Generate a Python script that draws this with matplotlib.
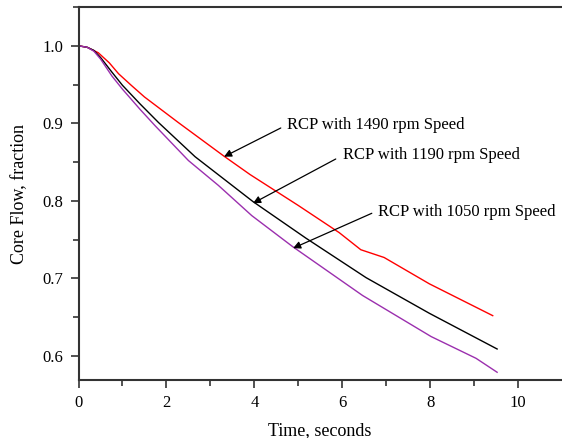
import matplotlib
matplotlib.use("Agg")
import matplotlib.pyplot as plt
from matplotlib.ticker import MultipleLocator

plt.rcParams['font.family'] = ['Liberation Serif', 'DejaVu Serif']

# Core flow coastdown curves
t_1490 = [0, 0.2, 0.45, 0.7, 0.91, 1.2, 1.5, 2.27, 3.3, 3.9, 5.0, 5.93, 6.42, 6.95, 7.98, 9.42]
flow_1490 = [1.0, 0.998, 0.991, 0.978, 0.964, 0.949, 0.934, 0.901, 0.858, 0.834, 0.794, 0.759, 0.737, 0.727, 0.693, 0.652]

t_1190 = [0, 0.2, 0.35, 0.5, 0.76, 1.0, 1.4, 1.82, 2.65, 3.97, 5.17, 6.54, 7.98, 9.52]
flow_1190 = [1.0, 0.998, 0.994, 0.985, 0.966, 0.949, 0.925, 0.901, 0.857, 0.799, 0.752, 0.701, 0.655, 0.609]

t_1050 = [0, 0.2, 0.35, 0.5, 0.76, 1.0, 1.4, 1.74, 2.5, 3.18, 3.94, 4.87, 6.46, 8.02, 9.04, 9.52]
flow_1050 = [1.0, 0.998, 0.993, 0.983, 0.961, 0.944, 0.918, 0.897, 0.852, 0.820, 0.781, 0.741, 0.678, 0.625, 0.597, 0.579]

labels = ["RCP with 1490 rpm Speed", "RCP with 1190 rpm Speed", "RCP with 1050 rpm Speed"]

fig = plt.figure(figsize=(5.62, 4.38), dpi=100)
ax = fig.add_axes([0.1397, 0.1324, 0.8583, 0.8516])

ax.plot(t_1490, flow_1490, color="#ff0000", lw=1.0)
ax.plot(t_1190, flow_1190, color="black", lw=1.0)
ax.plot(t_1050, flow_1050, color="#9b2fae", lw=1.0)

ax.set_xlim(0, 10.97)
ax.set_ylim(0.569, 1.05)

ax.xaxis.set_major_locator(MultipleLocator(2))
ax.xaxis.set_minor_locator(MultipleLocator(1))
ax.yaxis.set_major_locator(MultipleLocator(0.1))
ax.yaxis.set_minor_locator(MultipleLocator(0.05))
ax.yaxis.set_major_formatter(plt.FuncFormatter(lambda v, p: f"{v:.1f}"))
ax.xaxis.set_major_formatter(plt.FuncFormatter(lambda v, p: f"{v:.0f}"))

ax.tick_params(which="both", direction="out", top=False, right=False,
               color="#333333", labelsize=12, width=1.2)
ax.tick_params(which="major", length=6, pad=5)
ax.tick_params(which="minor", length=4)

for side in ["left", "bottom", "top"]:
    ax.spines[side].set_linewidth(1.5)
    ax.spines[side].set_color("#333333")
ax.spines["right"].set_visible(False)

ax.set_xlabel("Time, seconds", fontsize=13, labelpad=8)
ax.set_ylabel("Core Flow, fraction", fontsize=13, labelpad=10)

# annotations: (text pos, arrow tail, arrow tip)
text_pos = [(4.74, 0.898), (6.01, 0.859), (6.81, 0.786)]
tails = [(4.6, 0.894), (5.85, 0.854), (6.67, 0.784)]
tips = [(3.31, 0.857), (3.97, 0.797), (4.88, 0.739)]

for lab, tp, tl, tip in zip(labels, text_pos, tails, tips):
    ax.annotate("", xy=tip, xytext=tl,
                arrowprops=dict(arrowstyle="-|>", color="black", lw=0.9,
                                mutation_scale=11, shrinkA=0, shrinkB=0))
    ax.text(tp[0], tp[1], lab, fontsize=12, ha="left", va="center")

fig.savefig("out.png", dpi=100)
